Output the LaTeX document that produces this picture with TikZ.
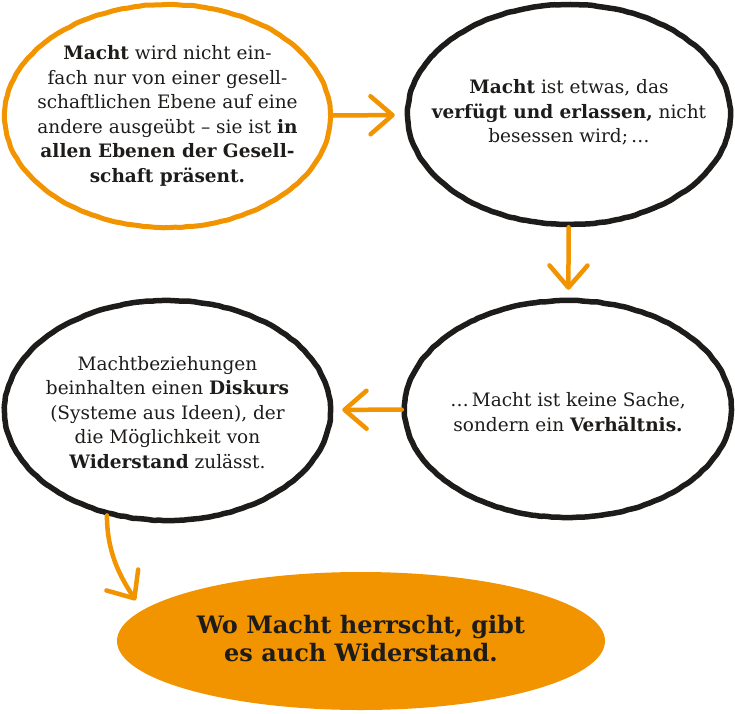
\documentclass[tikz,border=0pt]{standalone}
\usepackage{fontspec}
\setmainfont{DejaVu Serif}
\usepackage{tikz}
\usetikzlibrary{shapes.geometric,arrows.meta,decorations.pathmorphing}
\definecolor{machtorange}{RGB}{241,148,0}
\definecolor{machtblack}{RGB}{30,28,26}
\tikzset{ t/.style = { align = center % body text
        , text = machtblack
        , inner sep = 0pt
        , font = \fontsize{18.5}{24.5}\selectfont
        }
        , r/.style = { align = center % result text
        , text = machtblack
        , inner sep = 0pt
        , font = \fontsize{24}{28}\selectfont\bfseries
        }
        , rough/.style = { decorate % brush edge
        , decoration = {random steps, segment length = 4pt, amplitude = 0.4pt}
        , rounded corners = 1.5pt
        }
        }

\begin{document}
\begin{tikzpicture}[x=1pt, y=1pt,
        bubble_style/.style={ellipse,draw=machtblack,line width=5.5pt,inner sep=0pt,rough},
        orange_bubble_style/.style={bubble_style,draw=machtorange,line width=5pt},
        result_style/.style={ellipse,fill=machtorange,draw=none,inner sep=0pt},
        edge_style/.style={draw=machtorange,line width=4.5pt,line cap=round,
            -{Straight Barb[length=22pt,width=38pt,line cap=round,line join=round]}}]
        \useasboundingbox (0,0) rectangle (735,713);

        \node [orange_bubble_style,minimum width=326pt,minimum height=223pt,
            label={[t]center:{\textbf{Macht} wird nicht ein-\\fach nur von einer gesell-\\schaftlichen Ebene auf eine\\andere ausgeübt -- sie ist \textbf{in}\\\textbf{allen Ebenen der Gesell-}\\\textbf{schaft präsent.}}}](n1) at (167.5,597) {};
        \node [bubble_style,minimum width=323pt,minimum height=220pt,
            label={[t,yshift=2pt]center:{\textbf{Macht} ist etwas, das\\\textbf{verfügt und erlassen,} nicht\\besessen wird;\,\dots}}](n2) at (569,598.5) {};
        \node [bubble_style,minimum width=327pt,minimum height=217pt,
            label={[t,yshift=-3pt]center:{\dots\,Macht ist keine Sache,\\sondern ein \textbf{Verhältnis.}}}](n3) at (568,304) {};
        \node [bubble_style,minimum width=326pt,minimum height=220pt,
            label={[t,yshift=-2pt]center:{Machtbeziehungen\\beinhalten einen \textbf{Diskurs}\\(Systeme aus Ideen), der\\die Möglichkeit von\\\textbf{Widerstand} zulässt.}}](n4) at (167.5,302.5) {};
        \node [result_style,minimum width=488pt,minimum height=138pt,
            label={[r,yshift=2pt]center:{Wo Macht herrscht, gibt\\es auch Widerstand.}}](n5) at (361,72) {};

        \draw [edge_style,shorten >=10pt] (n1) -- (n2);
        \draw [edge_style,shorten >=8pt] (n2) -- (n3);
        \draw [edge_style,shorten >=9pt] (n3) -- (n4);
        \draw [edge_style,shorten >=12pt] (n4.240) .. controls (107,160) and (120.6,135.6) .. (n5.172);
\end{tikzpicture}
\end{document}
